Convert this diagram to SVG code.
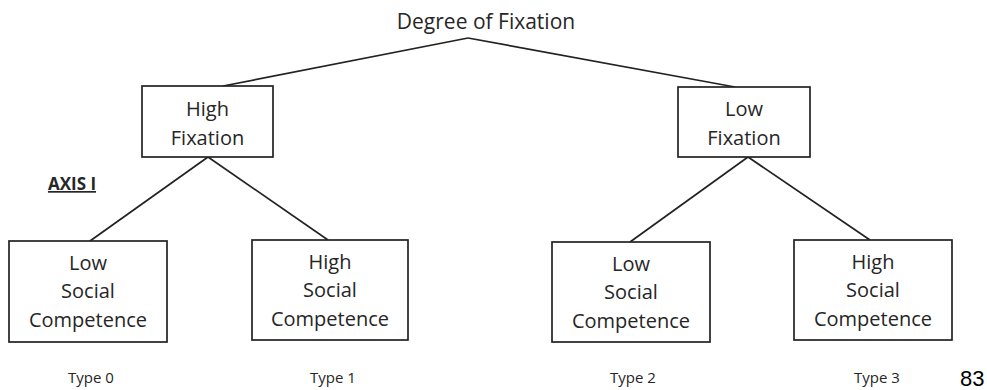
<svg xmlns="http://www.w3.org/2000/svg" width="987" height="390" viewBox="0 0 987 390">
<style>
text{font-family:"Open Sans","Liberation Sans",sans-serif;fill:#262626;text-anchor:middle}
.t{font-size:20px}
.big{font-size:21px}
.ty{font-size:15px}
.box{fill:#fff;stroke:#222;stroke-width:1.7}
.con{stroke:#222;stroke-width:1.7;fill:none}
</style>
<rect width="987" height="390" fill="#fff"/>
<g id="connectors">
<line class="con" x1="468" y1="38" x2="223" y2="86"/>
<line class="con" x1="468" y1="38" x2="735" y2="87"/>
<line class="con" x1="208" y1="157" x2="90" y2="241"/>
<line class="con" x1="208" y1="157" x2="328" y2="240"/>
<line class="con" x1="748" y1="157" x2="630" y2="242"/>
<line class="con" x1="748" y1="157" x2="870" y2="240"/>
</g>
<g id="root"><text class="big" x="486" y="29">Degree of Fixation</text></g>
<g id="high-fixation">
<rect class="box" x="142" y="86" width="131" height="71"/>
<text class="t" x="207.5" y="116">High</text>
<text class="t" x="207.5" y="145">Fixation</text>
</g>
<g id="low-fixation">
<rect class="box" x="678" y="87" width="132" height="70"/>
<text class="t" x="744" y="116">Low</text>
<text class="t" x="744" y="145">Fixation</text>
</g>
<g id="axis"><text x="72" y="190" style="font-size:17px;font-weight:bold;text-decoration:underline">AXIS I</text></g>
<g id="type0">
<rect class="box" x="9" y="241" width="158" height="101"/>
<text class="t" x="88" y="270">Low</text>
<text class="t" x="88" y="298">Social</text>
<text class="t" x="88" y="327">Competence</text>
<text class="ty" x="91" y="383">Type 0</text>
</g>
<g id="type1">
<rect class="box" x="252" y="240" width="156" height="100"/>
<text class="t" x="330" y="269">High</text>
<text class="t" x="330" y="297">Social</text>
<text class="t" x="330" y="326">Competence</text>
<text class="ty" x="333" y="383">Type 1</text>
</g>
<g id="type2">
<rect class="box" x="552" y="242" width="158" height="100"/>
<text class="t" x="631" y="271">Low</text>
<text class="t" x="631" y="299">Social</text>
<text class="t" x="631" y="328">Competence</text>
<text class="ty" x="633" y="383">Type 2</text>
</g>
<g id="type3">
<rect class="box" x="794" y="240" width="158" height="100"/>
<text class="t" x="873" y="269">High</text>
<text class="t" x="873" y="297">Social</text>
<text class="t" x="873" y="326">Competence</text>
<text class="ty" x="877" y="383">Type 3</text>
</g>
<text x="960" y="386" style="font-family:'Liberation Sans',Arial,sans-serif;font-size:22px;text-anchor:start;fill:#000">83</text>
</svg>
